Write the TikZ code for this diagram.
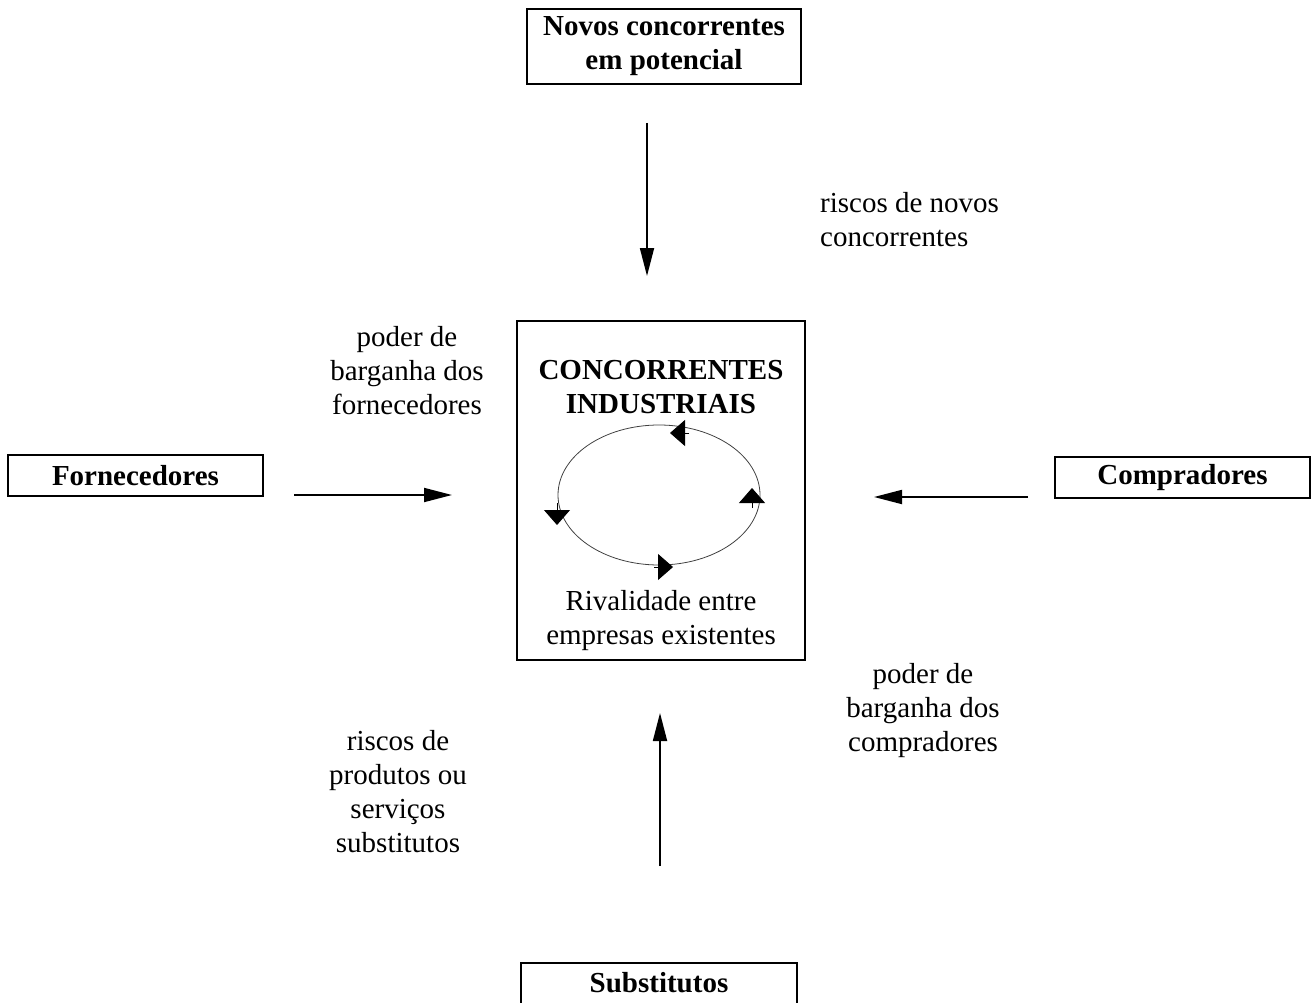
\documentclass[tikz,border=0pt]{standalone}
\usepackage{fontspec}
\setmainfont{Liberation Serif}
\usetikzlibrary{arrows.meta}
\begin{document}
\begin{tikzpicture}[x=1pt,y=-1pt,
  txt/.style={font=\fontsize{29}{34}\selectfont, align=center, inner sep=0pt},
  btxt/.style={txt, font=\fontsize{29}{34}\selectfont\bfseries},
  frame/.style={draw, line width=1.8pt, inner sep=0pt},
  force/.style={line width=1.8pt, -{Triangle[length=28pt,width=14pt]}},
  cyctip/.style={line width=0.9pt, -{Triangle[length=15pt,width=26pt]}}
]
\useasboundingbox (0,0) rectangle (1316,1003);

% outer forces
\node[frame, btxt, minimum width=274pt, minimum height=75pt] (novos) at (664,46.5)
  {Novos concorrentes\\em potencial};
\node[frame, btxt, minimum width=255pt, minimum height=41pt] (forn) at (135.5,475.5)
  {Fornecedores};
\node[frame, btxt, minimum width=255pt, minimum height=41pt] (comp) at (1182.5,477.5)
  {Compradores};
\node[btxt] (subs) at (659,983) {Substitutos};
\draw[line width=1.8pt] (521,1004) -- (521,963) -- (797,963) -- (797,1004);

% central box
\node[frame, minimum width=288pt, minimum height=339pt] (rival) at (661,490.5) {};
\node[btxt] (indus) at (661,387) {CONCORRENTES\\INDUSTRIAIS};
\node[txt] (rivtxt) at (661,621) {Rivalidade entre\\empresas existentes};

% rivalry cycle with its four heads
\draw[line width=0.8pt, black!75] (659,495) ellipse [x radius=101, y radius=70];
\draw[cyctip] (689,433) -- (670,433);
\draw[cyctip] (752,508) -- (752,488);
\draw[cyctip] (557,503) -- (557,525);
\draw[cyctip] (654,567) -- (673,567);

% force arrows
\coordinate (nS) at (647,123);  \coordinate (nE) at (647,276);
\coordinate (fS) at (294,495);  \coordinate (fE) at (452,495);
\coordinate (cS) at (1028,497); \coordinate (cE) at (874,497);
\coordinate (sS) at (660,866);  \coordinate (sE) at (660,713);
\draw[force] (nS) -- (nE);
\draw[force] (fS) -- (fE);
\draw[force] (cS) -- (cE);
\draw[force] (sS) -- (sE);

% labels
\node[txt, align=left, anchor=west] (lnovos) at (820,220) {riscos de novos\\concorrentes};
\node[txt] (lforn) at (407,371) {poder de\\barganha dos\\fornecedores};
\node[txt] (lcomp) at (923,711) {poder de\\barganha dos\\compradores};
\node[txt] (lsubs) at (398,792) {riscos de\\produtos ou\\serviços\\substitutos};
\end{tikzpicture}
\end{document}
